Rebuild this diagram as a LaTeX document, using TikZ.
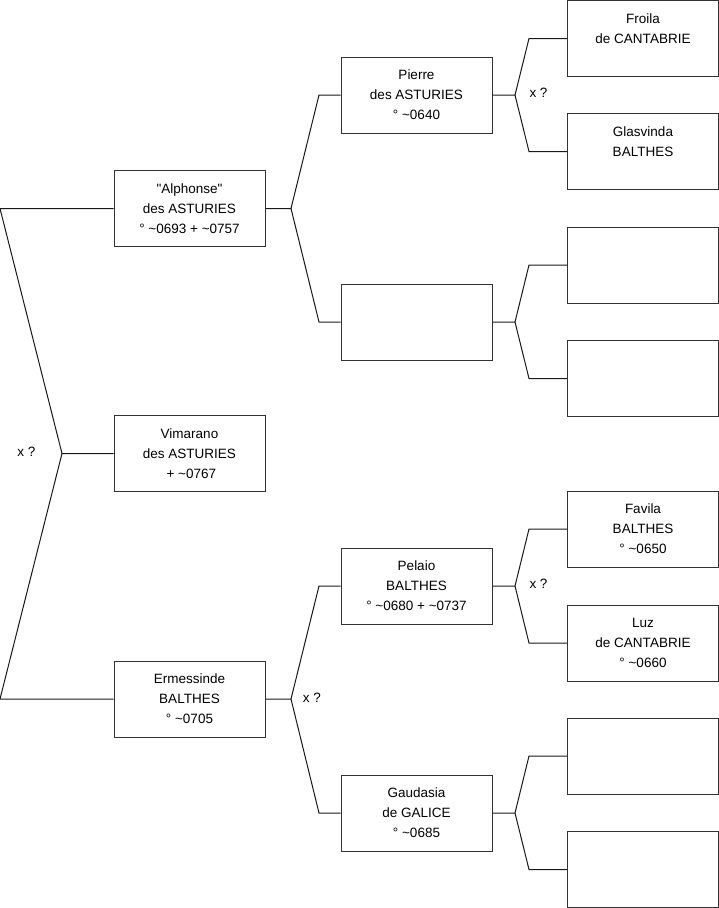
\documentclass[tikz,border=0pt]{standalone}
\usepackage{fontspec}
\setmainfont{Liberation Sans}[Ligatures=TeXOff]
\newcommand{\tl}{\textasciitilde}
\begin{document}
\begin{tikzpicture}[x=1pt,y=-1pt,
  pbox/.style={draw=black!80, line width=1pt, minimum width=151pt, minimum height=76pt, inner sep=0pt, align=center, font=\fontsize{13.5}{20}\selectfont},
  link/.style={draw=black!90, line width=1pt, line join=miter},
  xq/.style={inner sep=0pt, font=\fontsize{13.5}{16}\selectfont}]
\useasboundingbox (0,0) rectangle (719,908);
% column 1
\node[pbox] (alph) at (189.5,208.5) {"Alphonse"\\des ASTURIES\\° \tl0693 + \tl0757};
\node[pbox] (vim) at (189.5,453.5) {Vimarano\\des ASTURIES\\\mbox{}\ + \tl0767};
\node[pbox] (erm) at (189.5,699) {Ermessinde\\BALTHES\\° \tl0705};
% column 2
\node[pbox] (pierre) at (416.5,95) {Pierre\\des ASTURIES\\° \tl0640};
\node[pbox] (e2) at (416.5,322) {};
\node[pbox] (pelaio) at (416.5,586) {Pelaio\\BALTHES\\° \tl0680 + \tl0737};
\node[pbox] (gaud) at (416.5,813) {Gaudasia\\de GALICE\\° \tl0685};
% column 3
\node[pbox] (froila) at (643,38.5) {Froila\\de CANTABRIE\\\mbox{}};
\node[pbox] (glas) at (643,151.5) {Glasvinda\\BALTHES\\\mbox{}};
\node[pbox] (e3) at (643,265) {};
\node[pbox] (e4) at (643,378.5) {};
\node[pbox] (favila) at (643,529) {Favila\\BALTHES\\° \tl0650};
\node[pbox] (luz) at (643,643) {Luz\\de CANTABRIE\\° \tl0660};
\node[pbox] (e5) at (643,756) {};
\node[pbox] (e6) at (643,869.5) {};
% bend points
\coordinate (j0) at (62,453.5);
\coordinate (a0) at (0,208.5);
\coordinate (a1) at (0,699);
\coordinate (j1) at (291,208.5);
\coordinate (b1) at (319,95);
\coordinate (b2) at (319,322);
\coordinate (j2) at (291,699);
\coordinate (b3) at (319,586);
\coordinate (b4) at (319,813);
\coordinate (j3) at (515,95);
\coordinate (c1) at (529,38.5);
\coordinate (c2) at (529,151.5);
\coordinate (j4) at (515,322);
\coordinate (c3) at (529,265);
\coordinate (c4) at (529,378.5);
\coordinate (j5) at (515,586);
\coordinate (c5) at (529,529);
\coordinate (c6) at (529,643);
\coordinate (j6) at (515,813);
\coordinate (c7) at (529,756);
\coordinate (c8) at (529,869.5);
% connectors
\draw[link] (vim.west) -- (j0) -- (a0) -- (alph.west);
\draw[link] (j0) -- (a1) -- (erm.west);
\draw[link] (alph.east) -- (j1) -- (b1) -- (pierre.west);
\draw[link] (j1) -- (b2) -- (e2.west);
\draw[link] (erm.east) -- (j2) -- (b3) -- (pelaio.west);
\draw[link] (j2) -- (b4) -- (gaud.west);
\draw[link] (pierre.east) -- (j3) -- (c1) -- (froila.west);
\draw[link] (j3) -- (c2) -- (glas.west);
\draw[link] (e2.east) -- (j4) -- (c3) -- (e3.west);
\draw[link] (j4) -- (c4) -- (e4.west);
\draw[link] (pelaio.east) -- (j5) -- (c5) -- (favila.west);
\draw[link] (j5) -- (c6) -- (luz.west);
\draw[link] (gaud.east) -- (j6) -- (c7) -- (e5.west);
\draw[link] (j6) -- (c8) -- (e6.west);
% labels
\node[xq] (x1) at (26.5,452) {x ?};
\node[xq] (x2) at (538.5,93) {x ?};
\node[xq] (x3) at (538.5,584) {x ?};
\node[xq] (x4) at (312,698) {x ?};
\end{tikzpicture}
\end{document}
